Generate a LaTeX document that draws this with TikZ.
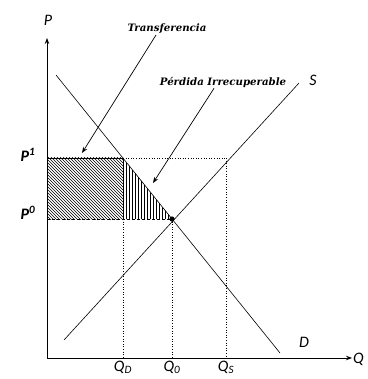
\documentclass[tikz,border=0pt]{standalone}
\usepackage{fontspec}
\setmainfont{Carlito}
\newfontfamily\notefont{DejaVu Serif}
\usetikzlibrary{arrows.meta,patterns,positioning}

\begin{document}
\begin{tikzpicture}[
    x=1pt, y=-1pt,
    axis/.style={-{Stealth[length=6pt,width=4.5pt]}, line width=0.9pt},
    curve/.style={line width=0.6pt},
    guide/.style={dotted, line width=0.6pt},
    pointer/.style={-{Stealth[length=6pt,width=4.5pt]}, line width=0.7pt},
    axislabel/.style={font=\fontsize{16}{16}\selectfont\itshape, inner sep=0pt},
    pricelabel/.style={font=\fontsize{16}{16}\selectfont\bfseries\itshape, inner sep=0pt},
    note/.style={font=\notefont\fontsize{10.2}{11}\selectfont\bfseries\itshape, inner sep=1pt},
]
\useasboundingbox (0,0) rectangle (367,379);

% === POINTS ===
\coordinate (O) at (47,358);
\coordinate (Ptop) at (47,38);
\coordinate (Qend) at (352,358);
\coordinate (P1) at (47,158);
\coordinate (P0) at (47,219);
\coordinate (E) at (172,219);
\coordinate (D1) at (123,158);
\coordinate (D0) at (123,219);
\coordinate (S1) at (226,158);
\coordinate (xD) at (123,358);
\coordinate (x0) at (172,358);
\coordinate (xS) at (226,358);

% === AREAS ===
\fill[pattern=north west lines] (P1) rectangle (D0);
\fill[pattern=vertical lines] (D1) -- (D0) -- (E) -- cycle;
\draw[line width=0.6pt] (P1) -- (D1);
\draw[line width=1pt] (D1) -- (D0);
\draw[densely dashed, line width=0.6pt] (P0) -- (E);

% === AXES ===
\draw[axis] (O) -- (Ptop);
\draw[axis] (O) -- (Qend);
\node[axislabel] (plabel) at (48,20) {P};
\node[axislabel, anchor=west] (qlabel) at (353,359) {Q};

% === CURVES ===
\coordinate (dstart) at (56,75);
\coordinate (dend) at (280,353);
\coordinate (sstart) at (64,340);
\coordinate (send) at (299,83);
\draw[curve] (dstart) -- (dend);
\draw[curve] (sstart) -- (send);
\node[axislabel] (slabel) at (313,80) {S};
\node[axislabel] (dlabel) at (304,342) {D};

% === GUIDES ===
\draw[guide] (D1) -- (S1);
\draw[guide] (S1) -- (xS);
\draw[guide] (D0) -- (xD);
\draw[guide] (E) -- (x0);
\fill (E) circle (2.6pt);

% === LABELS ===
\node[pricelabel] (p1label) at (28,155) {P\textsuperscript{1}};
\node[pricelabel] (p0label) at (28,213) {P\textsuperscript{0}};
\node[axislabel, anchor=south] (qdlabel) at (xD |- 0,374) {Q\textsubscript{D}};
\node[axislabel, anchor=south] (q0label) at (x0 |- 0,374) {Q\textsubscript{0}};
\node[axislabel, anchor=south] (qslabel) at (xS |- 0,374) {Q\textsubscript{S}};

% === ANNOTATIONS ===
\node[note] (transfer) at (167,29) {Transferencia};
\node[note] (loss) at (223,82) {Pérdida Irrecuperable};
\coordinate (transfertip) at (82,153);
\coordinate (losstip) at (153,183);
\draw[pointer] ([xshift=-11pt]transfer.south) -- (transfertip);
\draw[pointer] ([xshift=-9pt]loss.south) -- (losstip);

\end{tikzpicture}
\end{document}
